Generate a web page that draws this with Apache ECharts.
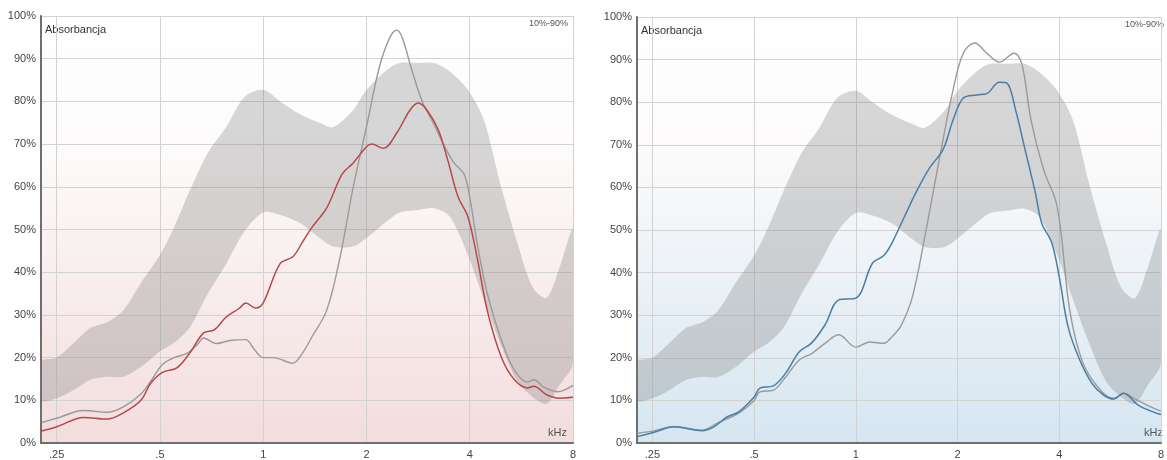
<!DOCTYPE html>
<html>
<head>
<meta charset="utf-8">
<script src="https://cdn.jsdelivr.net/npm/echarts@6/dist/echarts.min.js"></script>
<style>
html,body{margin:0;padding:0;background:#fff;}
#c{width:1167px;height:460px;}
</style>
</head>
<body>
<div id="c"></div>
<script>
// ---- data (kHz, % absorbance) ----
const bandFreq  = [0.225,0.25,0.28,0.314,0.35,0.39,0.44,0.5,0.55,0.61,0.69,0.78,0.88,1.0,1.12,1.28,1.46,1.6,1.83,2.0,2.3,2.5,2.8,3.15,3.5,3.95,4.4,4.9,5.5,6.1,6.7,7.3,8];
const bandUpper = [19,20,23.4,27,28.3,31,37.5,44,50.6,59,68,74,81,82.7,80,77,75,74,78,82.7,87.5,89,89,89,87,82.7,75.6,61,47,36.5,34,41,50];
const bandLower = [10,10.5,12.4,14.8,15.5,15.5,17.8,21.5,23.5,27,35,42,49.5,54,53.4,51.5,48,46,46,48,52,54,54.5,55,53,44,33.5,23.5,14.5,10.8,9.2,13.5,18.7];

const leftGrayFreq = [0.226,0.25,0.30,0.35,0.39,0.44,0.47,0.51,0.55,0.60,0.645,0.67,0.73,0.80,0.89,0.94,1.0,1.07,1.22,1.30,1.39,1.53,1.67,1.83,2.0,2.18,2.34,2.45,2.54,2.72,2.92,3.13,3.35,3.6,3.85,4.0,4.2,4.5,4.95,5.4,5.9,6.15,6.6,7.2,8];
const leftGray     = [4.8,5.8,7.6,7.2,8.4,11.5,14.5,18.5,20,21,23.2,24.6,23.3,24,24.2,22,20,20,18.7,21,25,31,43,60,74,88,95,96.7,95,87,79.6,75,70,65.6,63,57.6,47,35,24,17,14.3,14.8,13,12,13.5];

const leftRedFreq = [0.226,0.25,0.30,0.35,0.39,0.44,0.47,0.51,0.56,0.61,0.67,0.72,0.78,0.85,0.89,0.95,1.0,1.12,1.22,1.30,1.39,1.53,1.7,1.83,2.0,2.07,2.24,2.45,2.68,2.83,3.0,3.24,3.45,3.7,3.95,4.2,4.5,4.95,5.4,5.9,6.15,6.7,7.3,8];
const leftRed     = [2.8,3.8,6,5.6,7,10,14,16.6,17.6,21,25.8,26.5,29.5,31.5,32.8,31.6,32.8,42,43.6,47,50.6,55,63,65.6,69.4,70,69,72.6,78,79.6,78,73.3,66.3,57.6,53,43.6,31,20,14.8,12.9,13.3,11.3,10.5,10.7];

const rightGrayFreq = [0.225,0.25,0.29,0.35,0.39,0.45,0.5,0.52,0.57,0.62,0.68,0.74,0.81,0.89,1.0,1.1,1.21,1.28,1.36,1.47,1.62,1.77,1.94,2.08,2.25,2.44,2.66,2.94,3.1,3.3,3.6,3.9,4.05,4.3,4.7,5.3,5.8,6.2,6.65,7.6,8];
const rightGray     = [2.3,2.8,3.8,3,4.7,7,10,12,12.4,15.5,19.5,21,23.4,25.4,22.5,23.7,23.4,25,27.5,34.3,50.7,67,82.9,91.5,93.9,91.5,89.4,91.5,89,75.8,64,57,49.3,31,18.8,12.4,10.5,11.7,10.5,8.2,7.5];

const rightBlueFreq = [0.225,0.25,0.29,0.35,0.38,0.415,0.45,0.5,0.52,0.57,0.62,0.68,0.74,0.81,0.89,1.0,1.12,1.21,1.28,1.39,1.52,1.66,1.81,1.94,2.08,2.28,2.44,2.66,2.8,2.97,3.17,3.4,3.55,3.8,4.0,4.25,4.6,5.0,5.4,5.8,6.2,6.85,7.75,8];
const rightBlue     = [1.5,2.4,3.8,2.9,3.8,6.1,7.3,10.8,12.9,13.4,16.4,21.4,23.5,27.7,33.6,34,42.2,44,47,53,59.4,64.8,68.8,75.8,81,81.7,82,84.7,84.5,78.2,68.8,58.7,51.6,47,39,27.2,19.5,14,11.3,10.3,11.7,8.9,7,6.7];

const xTicks = ['.25','.5','1','2','4','8'];
const yTicks = ['0%','10%','20%','30%','40%','50%','60%','70%','80%','90%','100%'];

// ---- chart ----
const chart = echarts.init(document.getElementById('c'), null, {renderer:'canvas'});
const pairs = (xs, ys) => xs.map((x,i)=>[x, ys[i]]);
const FONT = '"Liberation Sans", Arial, sans-serif';

function grad(c){
  return new echarts.graphic.LinearGradient(0,0,0,1,[
    {offset:0,color:'#ffffff'},{offset:0.3,color:'#fdfbfb'},{offset:1,color:c}]);
}
function xAxis(i){
  return {
    gridIndex:i, type:'log', logBase:2, min:0.225, max:8,
    axisLine:{show:true, lineStyle:{color:'#6f6f6f', width:2}},
    axisTick:{show:false},
    splitLine:{show:true, lineStyle:{color:'#d2d2d2', width:1}},
    axisLabel:{showMinLabel:false, color:'#444', fontSize:11, fontFamily:FONT, margin:6,
      formatter:v=>{ const k = Math.round(Math.log2(v)) + 2; return xTicks[k] !== undefined ? xTicks[k] : ''; }}
  };
}
function yAxis(i){
  return {
    gridIndex:i, type:'value', min:0, max:100, interval:10,
    axisLine:{show:true, lineStyle:{color:'#6f6f6f', width:2}},
    axisTick:{show:false},
    splitLine:{show:true, lineStyle:{color:'#d2d2d2', width:1}},
    axisLabel:{color:'#444', fontSize:11, fontFamily:FONT, margin:5,
      formatter:v=>yTicks[Math.round(v/10)]}
  };
}
function bandSeries(i){
  return {
    type:'custom', xAxisIndex:i, yAxisIndex:i, silent:true, z:1,
    data: bandFreq.map((f,k)=>[f, bandLower[k], bandUpper[k]]),
    encode:{x:0, y:[1,2]},
    renderItem:(params, api)=>{
      if (params.dataIndex !== 0) return null;
      const n = params.dataInsideLength || bandFreq.length;
      const up = [], lo = [];
      for (let k=0;k<bandFreq.length;k++){
        up.push(api.coord([bandFreq[k], bandUpper[k]]));
        lo.push(api.coord([bandFreq[k], bandLower[k]]));
      }
      const cs = params.coordSys;
      return {
        type:'polygon',
        shape:{points: up.concat(lo.reverse()), smooth:0.3},
        style:{fill:'rgba(120,120,120,0.29)'},
        clipPath:{type:'rect', shape:{x:cs.x, y:cs.y, width:cs.width, height:cs.height}}
      };
    }
  };
}
function line(i, xs, ys, color, w, z){
  return {type:'line', xAxisIndex:i, yAxisIndex:i, data:pairs(xs, ys), symbol:'none',
    smooth:0.35, lineStyle:{color:color, width:w}, z:z};
}

const option = {
  animation:false,
  backgroundColor:'#ffffff',
  grid:[
    {left:41, top:16, width:532, height:427, show:true, borderWidth:0, backgroundColor:grad('#f3dddd')},
    {left:637, top:17, width:532, height:426, show:true, borderWidth:0, backgroundColor:grad('#d5e6f1')}
  ],
  xAxis:[xAxis(0), xAxis(1)],
  yAxis:[yAxis(0), yAxis(1)],
  series:[
    bandSeries(0),
    line(0, leftGrayFreq, leftGray, '#9a9a9a', 1.4, 3),
    line(0, leftRedFreq, leftRed, '#b8474a', 1.5, 4),
    bandSeries(1),
    line(1, rightGrayFreq, rightGray, '#9a9a9a', 1.4, 3),
    line(1, rightBlueFreq, rightBlue, '#4a7ea6', 1.5, 4)
  ],
  graphic:[
    {type:'text', left:45, top:24, style:{text:'Absorbancja', fill:'#333', font:'11px '+FONT}},
    {type:'text', left:641, top:25, style:{text:'Absorbancja', fill:'#333', font:'11px '+FONT}},
    {type:'text', right:1167-568, top:19, style:{text:'10%-90%', fill:'#555', font:'9px '+FONT}},
    {type:'text', right:1167-1164, top:20, style:{text:'10%-90%', fill:'#555', font:'9px '+FONT}},
    {type:'text', right:1167-567, top:427, style:{text:'kHz', fill:'#555', font:'11px '+FONT}},
    {type:'text', right:1167-1163, top:427, style:{text:'kHz', fill:'#555', font:'11px '+FONT}}
  ]
};
chart.setOption(option);
</script>
</body>
</html>
